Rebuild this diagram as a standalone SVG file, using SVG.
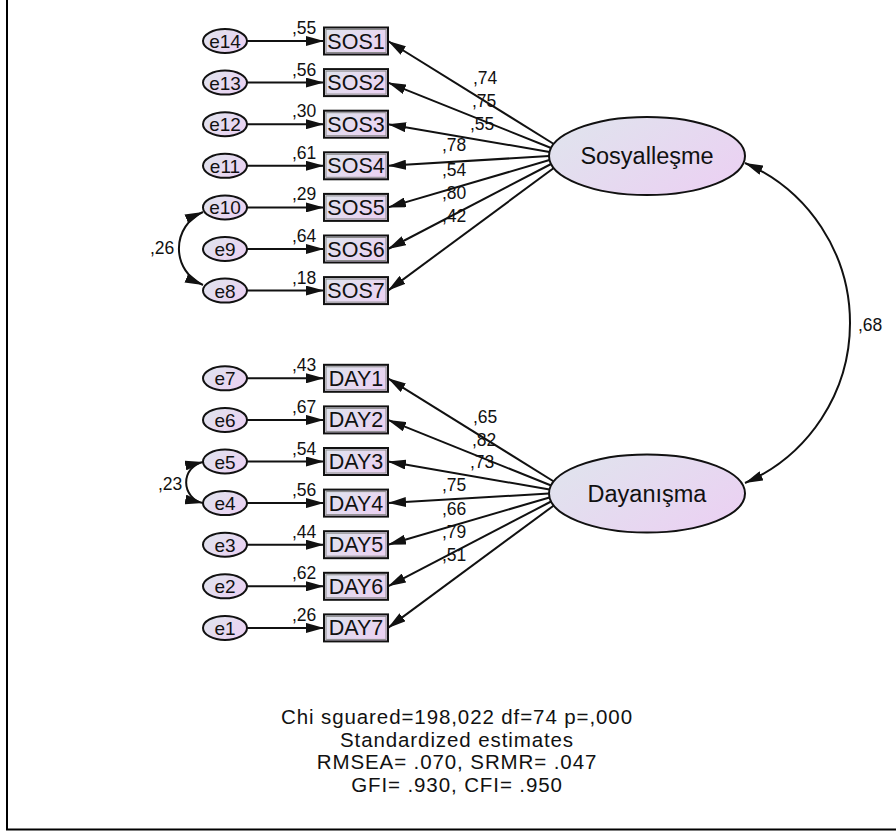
<svg xmlns="http://www.w3.org/2000/svg" width="896" height="832" viewBox="0 0 896 832">
<defs>
<linearGradient id="fill" x1="0" y1="0" x2="1" y2="0.6">
<stop offset="0" stop-color="#dfe5ed"/>
<stop offset="1" stop-color="#ead2f2"/>
</linearGradient>
<marker id="ah" viewBox="0 0 18 10" refX="18" refY="5" markerWidth="18" markerHeight="10" orient="auto-start-reverse" markerUnits="userSpaceOnUse">
<path d="M0,0 L18,5 L0,10 z" fill="#111"/>
</marker>
<style>
.ln{fill:none;stroke:#111;stroke-width:2;marker-end:url(#ah)}
.bi{fill:none;stroke:#111;stroke-width:2;marker-start:url(#ah);marker-end:url(#ah)}
.el{fill:url(#fill);stroke:#111;stroke-width:2}
.bx{fill:url(#fill);stroke:#111;stroke-width:2}
.bxi{fill:none;stroke:#8a8a8a;stroke-width:1}
.t{font-family:"Liberation Sans",Arial,sans-serif;fill:#111}
.et{font-size:19px;text-anchor:middle}
.vt{font-size:21.5px;text-anchor:middle}
.lt{font-size:23.5px;text-anchor:middle}
.nt{font-size:17.5px}
.ft{font-size:20.5px;letter-spacing:0.9px;text-anchor:middle}
</style>
</defs>
<rect width="896" height="832" fill="#fff"/>
<path d="M7,0 V829.5 H896" fill="none" stroke="#000" stroke-width="2"/>

<g id="connectors">
<path class="ln" d="M247,41 H324"/>
<path class="ln" d="M247,82.6 H324"/>
<path class="ln" d="M247,124.2 H324"/>
<path class="ln" d="M247,165.8 H324"/>
<path class="ln" d="M247,207.4 H324"/>
<path class="ln" d="M247,249 H324"/>
<path class="ln" d="M247,290.6 H324"/>
<path class="ln" d="M247,378.3 H324"/>
<path class="ln" d="M247,419.9 H324"/>
<path class="ln" d="M247,461.5 H324"/>
<path class="ln" d="M247,503.1 H324"/>
<path class="ln" d="M247,544.7 H324"/>
<path class="ln" d="M247,586.3 H324"/>
<path class="ln" d="M247,627.9 H324"/>
<path class="ln" d="M553.8,144 L388,41"/>
<path class="ln" d="M551.1,148 L388,82.6"/>
<path class="ln" d="M549.5,152 L388,124.2"/>
<path class="ln" d="M549,156 L388,165.8"/>
<path class="ln" d="M549.5,160 L388,207.4"/>
<path class="ln" d="M551.1,164 L388,249"/>
<path class="ln" d="M553.8,168 L388,290.6"/>
<path class="ln" d="M553.8,481.5 L388,378.3"/>
<path class="ln" d="M551.1,485.5 L388,419.9"/>
<path class="ln" d="M549.5,489.5 L388,461.5"/>
<path class="ln" d="M549,493.5 L388,503.1"/>
<path class="ln" d="M549.5,497.5 L388,544.7"/>
<path class="ln" d="M551.1,501.5 L388,586.3"/>
<path class="ln" d="M553.8,505.5 L388,627.9"/>
<path class="bi" d="M745,163 A174.4,174.4 0 0 1 745,483"/>
<path class="bi" d="M203,212 A39.7,39.7 0 0 0 203,285"/>
<path class="bi" d="M203,462 A20.9,20.9 0 0 0 203,503"/>
</g>

<g id="labels" class="t nt">
<text x="292" y="34">,55</text>
<text x="292" y="75.6">,56</text>
<text x="292" y="117.2">,30</text>
<text x="292" y="158.8">,61</text>
<text x="292" y="200.4">,29</text>
<text x="292" y="242">,64</text>
<text x="292" y="283.6">,18</text>
<text x="292" y="371.3">,43</text>
<text x="292" y="412.9">,67</text>
<text x="292" y="454.5">,54</text>
<text x="292" y="496.1">,56</text>
<text x="292" y="537.7">,44</text>
<text x="292" y="579.3">,62</text>
<text x="292" y="620.9">,26</text>
<text x="473" y="84">,74</text>
<text x="472" y="107">,75</text>
<text x="470" y="130">,55</text>
<text x="442" y="151">,78</text>
<text x="442" y="176">,54</text>
<text x="442" y="199">,80</text>
<text x="442" y="222">,42</text>
<text x="473" y="423">,65</text>
<text x="472" y="446">,82</text>
<text x="470" y="468">,73</text>
<text x="442" y="491">,75</text>
<text x="442" y="515">,66</text>
<text x="442" y="538">,79</text>
<text x="442" y="561">,51</text>
<text x="858" y="331">,68</text>
<text x="150" y="254">,26</text>
<text x="158" y="490">,23</text>
</g>

<g id="e14"><ellipse class="el" cx="225" cy="41" rx="22" ry="12"/><text class="t et" x="225" y="48">e14</text></g>
<g id="e13"><ellipse class="el" cx="225" cy="82.6" rx="22" ry="12"/><text class="t et" x="225" y="89.6">e13</text></g>
<g id="e12"><ellipse class="el" cx="225" cy="124.2" rx="22" ry="12"/><text class="t et" x="225" y="131.2">e12</text></g>
<g id="e11"><ellipse class="el" cx="225" cy="165.8" rx="22" ry="12"/><text class="t et" x="225" y="172.8">e11</text></g>
<g id="e10"><ellipse class="el" cx="225" cy="207.4" rx="22" ry="12"/><text class="t et" x="225" y="214.4">e10</text></g>
<g id="e9"><ellipse class="el" cx="225" cy="249" rx="22" ry="12"/><text class="t et" x="225" y="256">e9</text></g>
<g id="e8"><ellipse class="el" cx="225" cy="290.6" rx="22" ry="12"/><text class="t et" x="225" y="297.6">e8</text></g>
<g id="e7"><ellipse class="el" cx="225" cy="378.3" rx="22" ry="12"/><text class="t et" x="225" y="385.3">e7</text></g>
<g id="e6"><ellipse class="el" cx="225" cy="419.9" rx="22" ry="12"/><text class="t et" x="225" y="426.9">e6</text></g>
<g id="e5"><ellipse class="el" cx="225" cy="461.5" rx="22" ry="12"/><text class="t et" x="225" y="468.5">e5</text></g>
<g id="e4"><ellipse class="el" cx="225" cy="503.1" rx="22" ry="12"/><text class="t et" x="225" y="510.1">e4</text></g>
<g id="e3"><ellipse class="el" cx="225" cy="544.7" rx="22" ry="12"/><text class="t et" x="225" y="551.7">e3</text></g>
<g id="e2"><ellipse class="el" cx="225" cy="586.3" rx="22" ry="12"/><text class="t et" x="225" y="593.3">e2</text></g>
<g id="e1"><ellipse class="el" cx="225" cy="627.9" rx="22" ry="12"/><text class="t et" x="225" y="634.9">e1</text></g>

<g id="SOS1"><rect class="bx" x="324" y="27.5" width="64" height="27"/><rect class="bxi" x="326" y="29.5" width="60" height="23"/><text class="t vt" x="356" y="48.5">SOS1</text></g>
<g id="SOS2"><rect class="bx" x="324" y="69.1" width="64" height="27"/><rect class="bxi" x="326" y="71.1" width="60" height="23"/><text class="t vt" x="356" y="90.1">SOS2</text></g>
<g id="SOS3"><rect class="bx" x="324" y="110.7" width="64" height="27"/><rect class="bxi" x="326" y="112.7" width="60" height="23"/><text class="t vt" x="356" y="131.7">SOS3</text></g>
<g id="SOS4"><rect class="bx" x="324" y="152.3" width="64" height="27"/><rect class="bxi" x="326" y="154.3" width="60" height="23"/><text class="t vt" x="356" y="173.3">SOS4</text></g>
<g id="SOS5"><rect class="bx" x="324" y="193.9" width="64" height="27"/><rect class="bxi" x="326" y="195.9" width="60" height="23"/><text class="t vt" x="356" y="214.9">SOS5</text></g>
<g id="SOS6"><rect class="bx" x="324" y="235.5" width="64" height="27"/><rect class="bxi" x="326" y="237.5" width="60" height="23"/><text class="t vt" x="356" y="256.5">SOS6</text></g>
<g id="SOS7"><rect class="bx" x="324" y="277.1" width="64" height="27"/><rect class="bxi" x="326" y="279.1" width="60" height="23"/><text class="t vt" x="356" y="298.1">SOS7</text></g>
<g id="DAY1"><rect class="bx" x="324" y="364.8" width="64" height="27"/><rect class="bxi" x="326" y="366.8" width="60" height="23"/><text class="t vt" x="356" y="385.8">DAY1</text></g>
<g id="DAY2"><rect class="bx" x="324" y="406.4" width="64" height="27"/><rect class="bxi" x="326" y="408.4" width="60" height="23"/><text class="t vt" x="356" y="427.4">DAY2</text></g>
<g id="DAY3"><rect class="bx" x="324" y="448" width="64" height="27"/><rect class="bxi" x="326" y="450" width="60" height="23"/><text class="t vt" x="356" y="469">DAY3</text></g>
<g id="DAY4"><rect class="bx" x="324" y="489.6" width="64" height="27"/><rect class="bxi" x="326" y="491.6" width="60" height="23"/><text class="t vt" x="356" y="510.6">DAY4</text></g>
<g id="DAY5"><rect class="bx" x="324" y="531.2" width="64" height="27"/><rect class="bxi" x="326" y="533.2" width="60" height="23"/><text class="t vt" x="356" y="552.2">DAY5</text></g>
<g id="DAY6"><rect class="bx" x="324" y="572.8" width="64" height="27"/><rect class="bxi" x="326" y="574.8" width="60" height="23"/><text class="t vt" x="356" y="593.8">DAY6</text></g>
<g id="DAY7"><rect class="bx" x="324" y="614.4" width="64" height="27"/><rect class="bxi" x="326" y="616.4" width="60" height="23"/><text class="t vt" x="356" y="635.4">DAY7</text></g>

<g id="Sosyallesme"><ellipse class="el" cx="647" cy="156" rx="98" ry="39"/><text class="t lt" x="647" y="163.5">Sosyalleşme</text></g>
<g id="Dayanisma"><ellipse class="el" cx="647" cy="493.5" rx="98" ry="39"/><text class="t lt" x="647" y="501.5">Dayanışma</text></g>

<g id="fit" class="t ft">
<text x="457" y="724">Chi sguared=198,022 df=74 p=,000</text>
<text x="457" y="746.5">Standardized estimates</text>
<text x="457" y="769">RMSEA= .070, SRMR= .047</text>
<text x="457" y="791.5">GFI= .930, CFI= .950</text>
</g>
</svg>
